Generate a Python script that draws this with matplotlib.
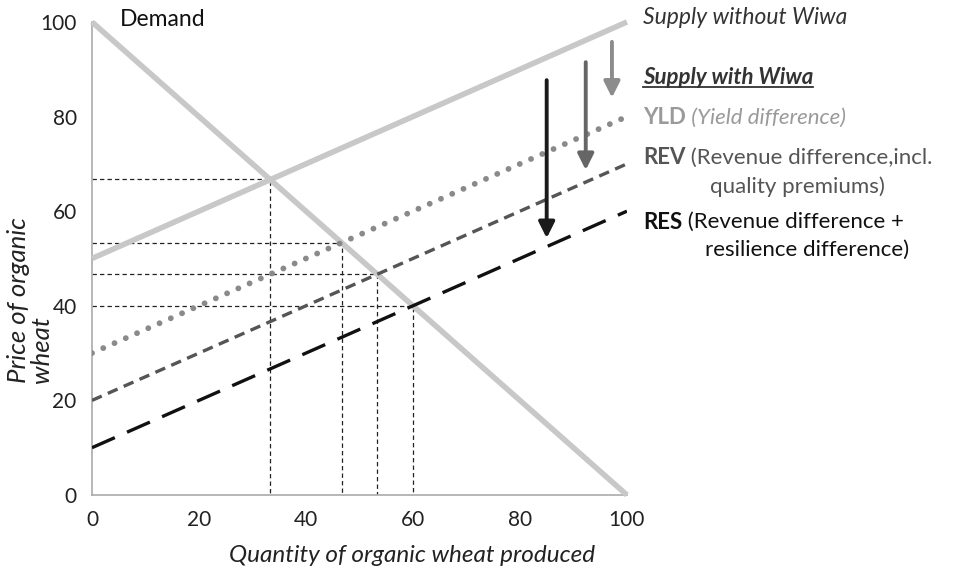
import numpy as np
import matplotlib.pyplot as plt
from matplotlib.lines import Line2D

plt.rcParams['font.family'] = ['Lato', 'DejaVu Sans']

# --- données du graphique ---
quantity = [0, 100]
demand = [100, 0]
supply_without = [50, 100]
supply_yld = [30, 80]
supply_rev = [20, 70]
supply_res = [10, 60]

# équilibres (quantité, prix)
eq_q = [33.3, 46.7, 53.3, 60.0]
eq_p = [66.7, 53.3, 46.7, 40.0]

# flèches (x, début, fin)
arrow_x = [85.0, 92.3, 97.2]
arrow_start = [87.7, 91.5, 95.8]
arrow_end = [54.3, 68.7, 84.0]
arrow_colors = ['#1a1a1a', '#666666', '#8c8c8c']

ticks = [0, 20, 40, 60, 80, 100]

fig = plt.figure(figsize=(9.57, 5.72), dpi=100)
ax = fig.add_axes([0.0961, 0.1346, 0.559, 0.827])

# lignes de référence pointillées
for q, p in zip(eq_q, eq_p):
    ax.plot([0, q, q], [p, p, 0], color='#222222', lw=0.9,
            linestyle=(0, (3.5, 2.5)), zorder=1)

ax.plot(quantity, demand, color='#c8c8c8', lw=4, solid_capstyle='butt',
        clip_on=False, zorder=3)
ax.plot(quantity, supply_without, color='#c8c8c8', lw=4,
        solid_capstyle='butt', clip_on=False, zorder=3)
ax.plot(quantity, supply_yld, color='#8a8a8a', lw=4.2,
        linestyle=(0, (0.01, 2.1)), dash_capstyle='round', zorder=4)
ax.plot(quantity, supply_rev, color='#555555', lw=2.4,
        linestyle=(0, (3.2, 2.0)), zorder=4)
ax.plot(quantity, supply_res, color='#111111', lw=2.4,
        linestyle=(0, (7.5, 4.0)), zorder=4)

for x, y0, y1, c in zip(arrow_x, arrow_start, arrow_end, arrow_colors):
    ax.annotate('', xy=(x, y1), xytext=(x, y0),
                arrowprops=dict(arrowstyle='-|>', lw=2.8, color=c,
                                mutation_scale=24, shrinkA=0, shrinkB=0),
                zorder=5)

ax.set_xlim(0, 100)
ax.set_ylim(0, 100)
ax.set_xticks(ticks)
ax.set_yticks(ticks)
ax.tick_params(length=0, labelsize=15, pad=11, colors='#222222')
for s in ['top', 'right']:
    ax.spines[s].set_visible(False)
for s in ['left', 'bottom']:
    ax.spines[s].set_color('#aaaaaa')
    ax.spines[s].set_linewidth(1.2)

ax.set_xlabel('Quantity of organic wheat produced', style='italic',
              fontsize=17.5, color='#222222', va='center')
ax.xaxis.set_label_coords(0.598, -0.127)
fig.text(0.031, 0.33, 'Price of organic\nwheat', rotation=90, style='italic',
         fontsize=18.5, ha='center', va='bottom', linespacing=1.0,
         multialignment='left', color='#222222')

ax.text(5.3, 100.5, 'Demand', fontsize=16.5, ha='left', va='center',
        color='#111111')

# textes à droite
fs = 16
tx = 103.0
ax.text(tx, 101, 'Supply without Wiwa', style='italic', fontsize=fs + 0.5,
        ha='left', va='center', color='#333333', clip_on=False)
t_with = ax.text(tx, 88.2, 'Supply with Wiwa', style='italic',
                 fontweight='bold', fontsize=fs, ha='left', va='center',
                 color='#333333', clip_on=False)
t_yld = ax.text(tx, 79.8, 'YLD', fontweight='bold', fontsize=fs, ha='left',
                va='center', color='#9a9a9a', clip_on=False)
ax.annotate(' (Yield difference)', xy=(1, 0.5), xycoords=t_yld,
            va='center', ha='left', style='italic', fontsize=fs,
            color='#9a9a9a', annotation_clip=False)
t_rev = ax.text(tx, 71.3, 'REV', fontweight='bold', fontsize=fs, ha='left',
                va='center', color='#555555', clip_on=False)
ax.annotate(' (Revenue difference,incl.', xy=(1, 0.5), xycoords=t_rev,
            va='center', ha='left', fontsize=fs, color='#555555',
            annotation_clip=False)
ax.text(tx + 12.5, 65.2, 'quality premiums)', fontsize=fs, ha='left',
        va='center', color='#555555', clip_on=False)
t_res = ax.text(tx, 57.7, 'RES', fontweight='bold', fontsize=fs, ha='left',
                va='center', color='#111111', clip_on=False)
ax.annotate(' (Revenue difference +', xy=(1, 0.5), xycoords=t_res,
            va='center', ha='left', fontsize=fs, color='#111111',
            annotation_clip=False)
ax.text(tx + 11.5, 51.8, 'resilience difference)', fontsize=fs, ha='left',
        va='center', color='#111111', clip_on=False)

# soulignement de "Supply with Wiwa"
fig.canvas.draw()
bb = t_with.get_window_extent().transformed(fig.transFigure.inverted())
fig.add_artist(Line2D([bb.x0, bb.x1], [bb.y0 + 0.002, bb.y0 + 0.002],
                      transform=fig.transFigure, color='#333333', lw=1.3))

plt.savefig('out.png', dpi=100)
